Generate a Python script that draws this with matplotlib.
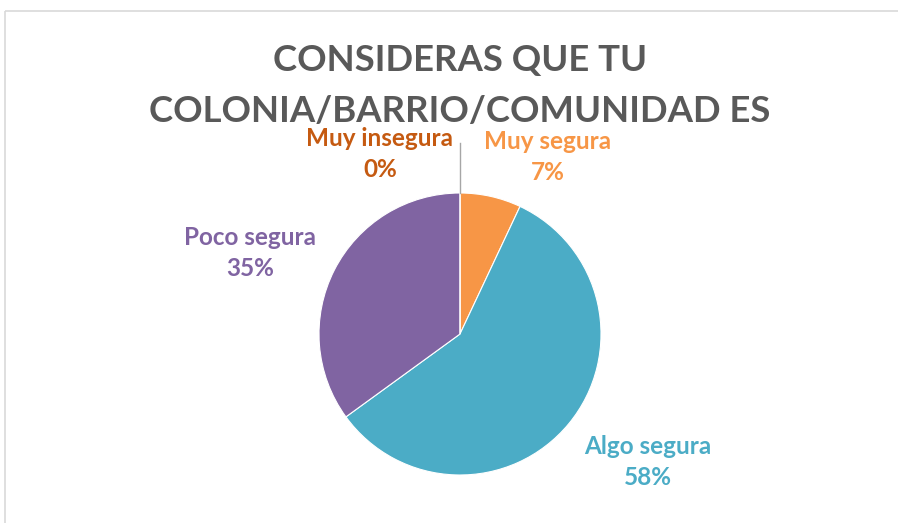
import matplotlib.pyplot as plt
from matplotlib.patches import Rectangle

# Datos
categorias = ['Muy segura', 'Algo segura', 'Poco segura', 'Muy insegura']
valores = [7, 58, 35, 0]
colores = ['#F79646', '#4BACC6', '#8064A2', '#C55A11']
etiquetas = ['Muy segura\n7%', 'Algo segura\n58%', 'Poco segura\n35%', 'Muy insegura\n0%']

W, H = 898, 523
fig = plt.figure(figsize=(W / 100, H / 100), dpi=100)
ax = fig.add_axes([0, 0, 1, 1])

# marco del área del gráfico
ax.add_patch(Rectangle((5, 11), W, H, fill=False, edgecolor='#D9D9D9', linewidth=1.2))

# eje y invertido: startangle=-90 + counterclock=True = horario desde arriba en pantalla
cx, cy, r = 460, 334, 141
ax.pie(valores, colors=colores, startangle=-90, counterclock=True,
       center=(cx, cy), radius=r, wedgeprops=dict(edgecolor='white', linewidth=0.8),
       frame=True)
ax.set_xlim(0, W)
ax.set_ylim(H, 0)
ax.set_aspect('equal')
ax.axis('off')

# título
ax.text(460, 60, 'CONSIDERAS QUE TU', ha='center', va='center', fontsize=26.3,
        fontweight='bold', color='#595959', family='Lato')
ax.text(460, 111, 'COLONIA/BARRIO/COMUNIDAD ES', ha='center', va='center', fontsize=26.3,
        fontweight='bold', color='#595959', family='Lato')

# etiquetas
pos = [(548, 157), (648, 462), (250, 253), (380, 154)]
for txt, (x, y), c in zip(etiquetas, pos, colores):
    ax.text(x, y, txt, ha='center', va='center', fontsize=17.5, fontweight='bold',
            color=c, family='Lato', linespacing=1.4)

# línea guía de la etiqueta 0%
ax.plot([460, 460], [143, cy - r], color='#A6A6A6', linewidth=1)

plt.savefig('out.png', dpi=100)
